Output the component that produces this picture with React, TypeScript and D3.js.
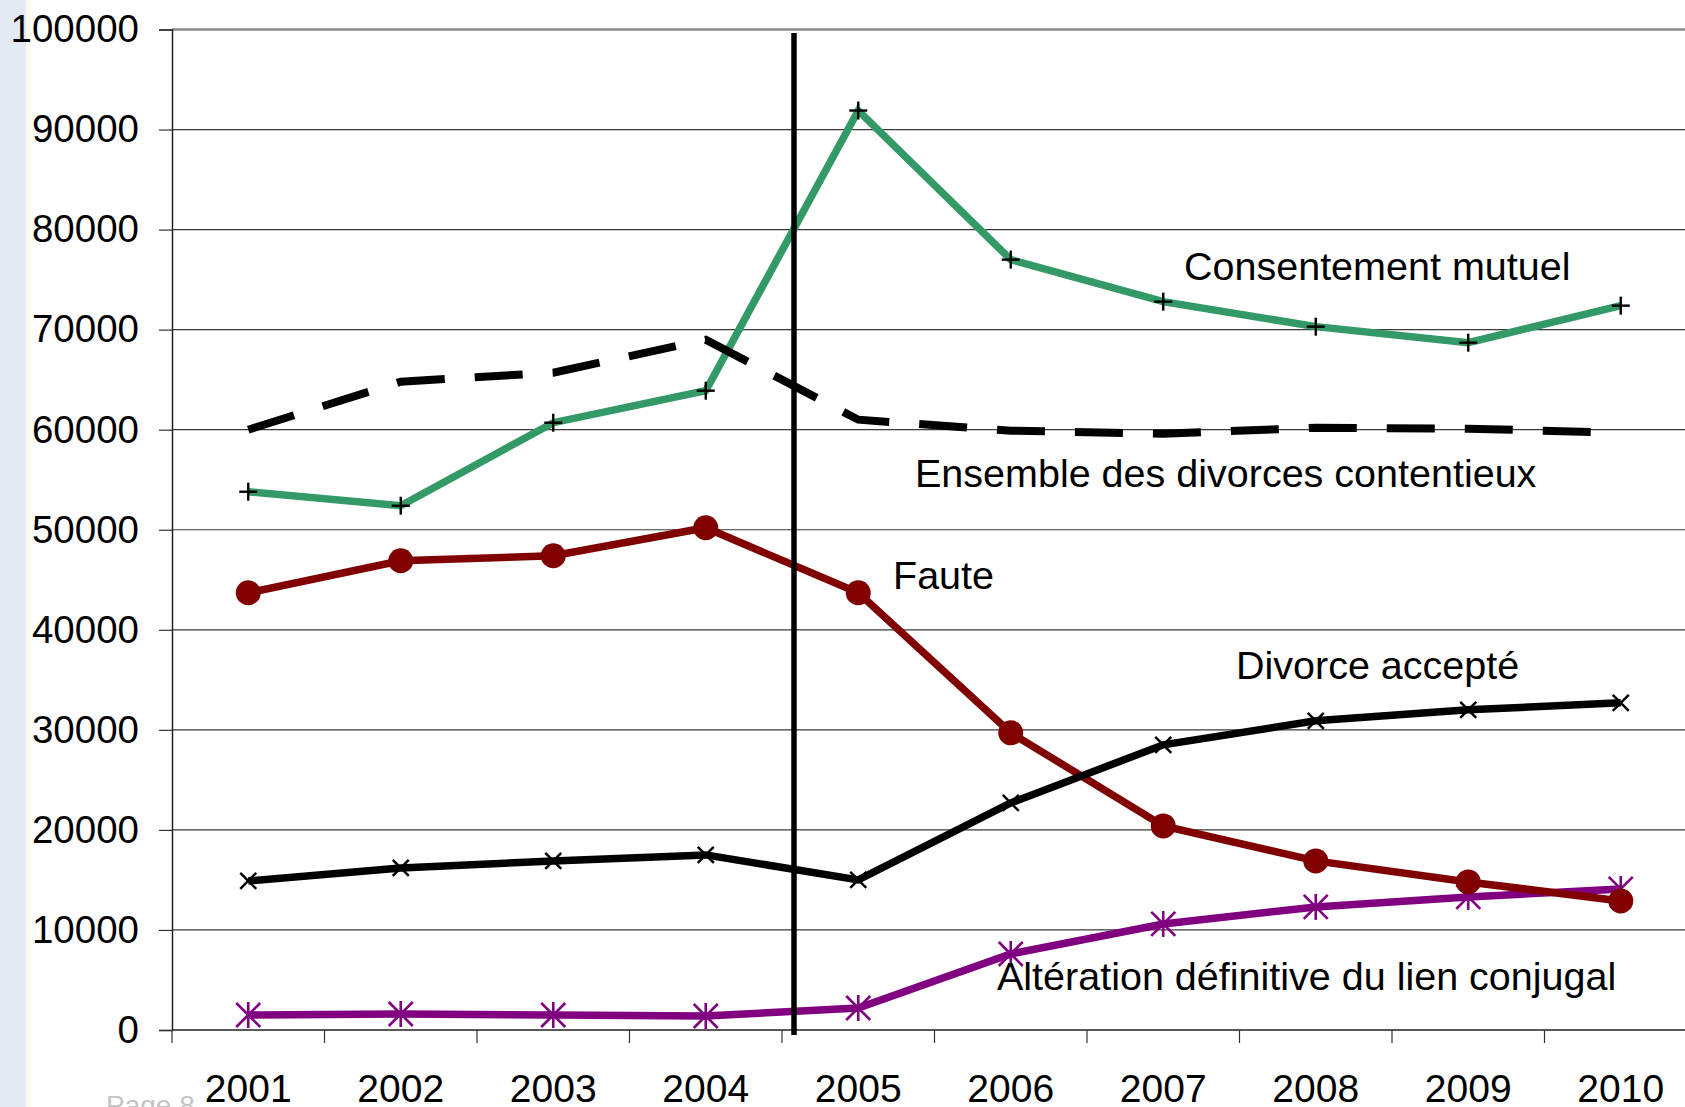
import { useEffect, useRef } from 'react';
import * as d3 from 'd3';

const years = ['2001', '2002', '2003', '2004', '2005', '2006', '2007', '2008', '2009', '2010'];
const consentement = [53800, 52400, 60700, 63900, 91900, 77000, 72800, 70300, 68700, 72400];
const contentieux = [60000, 64800, 65700, 69000, 61000, 59900, 59600, 60200, 60100, 59700];
const faute = [43700, 46900, 47400, 50200, 43700, 29700, 20400, 16900, 14800, 12900];
const accepte = [14900, 16200, 16900, 17500, 15000, 22700, 28500, 30900, 32000, 32700];
const alteration = [1500, 1600, 1500, 1400, 2200, 7600, 10600, 12300, 13300, 14100];
const yTicks = [0, 10000, 20000, 30000, 40000, 50000, 60000, 70000, 80000, 90000, 100000];

const W = 1685;
const H = 1107;
const left = 172;
const top = 29.5;
const bottom = 1030;
const step = 152.5;
const font = '"Liberation Sans", Arial, sans-serif';

const green = '#339966';
const red = '#800000';
const purple = '#800080';

export default function App() {
  const ref = useRef<SVGSVGElement>(null);

  useEffect(() => {
    const dom = ref.current;
    if (!dom) return;
    const svg = d3.select(dom);
    svg.selectAll('*').remove();

    // fond + bande gauche
    svg.append('rect').attr('width', W).attr('height', H).attr('fill', '#fff');
    svg.append('rect').attr('width', 26).attr('height', H).attr('fill', '#e4eaf3');
    svg.append('rect').attr('x', 26).attr('width', 5).attr('height', H).attr('fill', '#fcf9ee');

    const x = d3
      .scaleBand()
      .domain(years)
      .range([left, left + step * years.length]);
    const cx = (d: string) => (x(d) ?? 0) + x.bandwidth() / 2;
    const y = d3.scaleLinear().domain([0, 100000]).range([bottom, top]);

    // grille
    svg
      .append('g')
      .selectAll('line')
      .data(yTicks.filter((t) => t > 0))
      .join('line')
      .attr('x1', left)
      .attr('x2', W)
      .attr('y1', (d) => y(d))
      .attr('y2', (d) => y(d))
      .attr('stroke', (d) => (d === 100000 ? '#8a8a8a' : '#3a3a3a'))
      .attr('stroke-width', (d) => (d === 100000 ? 2.5 : 1.2));

    // axe Y
    const yAxis = svg
      .append('g')
      .attr('transform', `translate(${left},0)`)
      .call(d3.axisLeft(y).tickValues(yTicks).tickSize(13).tickPadding(20).tickFormat(d3.format('d')));
    yAxis.select('.domain').attr('stroke', '#222').attr('stroke-width', 1.5);
    yAxis.selectAll('line').attr('stroke', '#333').attr('stroke-width', 1.2);
    yAxis
      .selectAll('text')
      .attr('font-family', font)
      .attr('font-size', 38.5)
      .attr('fill', '#000');

    // axe X (graduations entre les années)
    svg
      .append('line')
      .attr('x1', left)
      .attr('x2', W)
      .attr('y1', bottom)
      .attr('y2', bottom)
      .attr('stroke', '#222')
      .attr('stroke-width', 1.5);
    svg
      .append('g')
      .selectAll('line')
      .data(years)
      .join('line')
      .attr('x1', (d) => x(d) ?? 0)
      .attr('x2', (d) => x(d) ?? 0)
      .attr('y1', bottom)
      .attr('y2', bottom + 13)
      .attr('stroke', '#333')
      .attr('stroke-width', 1.2);
    svg
      .append('g')
      .selectAll('text')
      .data(years)
      .join('text')
      .attr('x', cx)
      .attr('y', 1102)
      .attr('text-anchor', 'middle')
      .attr('font-family', font)
      .attr('font-size', 39)
      .text((d) => d);

    const line = d3
      .line<number>()
      .x((_, i) => cx(years[i]))
      .y((d) => y(d));

    const drawLine = (vals: number[], color: string, dash?: string) =>
      svg
        .append('path')
        .datum(vals)
        .attr('d', line)
        .attr('fill', 'none')
        .attr('stroke', color)
        .attr('stroke-width', dash ? 8 : 7.5)
        .attr('stroke-dasharray', dash ?? null)
        .attr('stroke-linejoin', 'miter');

    // Altération définitive - astérisques
    drawLine(alteration, purple);
    const star = svg
      .append('g')
      .selectAll('g')
      .data(alteration)
      .join('g')
      .attr('transform', (d, i) => `translate(${cx(years[i])},${y(d)})`)
      .attr('stroke', purple)
      .attr('stroke-width', 2.6);
    star.append('line').attr('x1', 0).attr('x2', 0).attr('y1', -13).attr('y2', 13);
    star.append('line').attr('x1', -12).attr('x2', 12).attr('y1', -12).attr('y2', 12);
    star.append('line').attr('x1', -12).attr('x2', 12).attr('y1', 12).attr('y2', -12);

    // Faute - ronds
    drawLine(faute, red);
    svg
      .append('g')
      .selectAll('circle')
      .data(faute)
      .join('circle')
      .attr('cx', (_, i) => cx(years[i]))
      .attr('cy', (d) => y(d))
      .attr('r', 12.5)
      .attr('fill', red);

    // Divorce accepté - croix
    drawLine(accepte, '#000');
    const cross = svg
      .append('g')
      .selectAll('g')
      .data(accepte)
      .join('g')
      .attr('transform', (d, i) => `translate(${cx(years[i])},${y(d)})`)
      .attr('stroke', '#000')
      .attr('stroke-width', 2.4);
    cross.append('line').attr('x1', -8).attr('x2', 8).attr('y1', -8).attr('y2', 8);
    cross.append('line').attr('x1', -8).attr('x2', 8).attr('y1', 8).attr('y2', -8);

    // Consentement mutuel - plus
    drawLine(consentement, green);
    const plus = svg
      .append('g')
      .selectAll('g')
      .data(consentement)
      .join('g')
      .attr('transform', (d, i) => `translate(${cx(years[i])},${y(d)})`)
      .attr('stroke', '#000')
      .attr('stroke-width', 2.4);
    plus.append('line').attr('x1', -9).attr('x2', 9).attr('y1', 0).attr('y2', 0);
    plus.append('line').attr('x1', 0).attr('x2', 0).attr('y1', -9).attr('y2', 9);

    // Ensemble des divorces contentieux - tirets
    drawLine(contentieux, '#000', '48 30');

    // réforme de 2005
    const xr = (x('2005') ?? 0) + 12;
    svg
      .append('line')
      .attr('x1', xr)
      .attr('x2', xr)
      .attr('y1', 33)
      .attr('y2', 1035)
      .attr('stroke', '#000')
      .attr('stroke-width', 5.5);

    // étiquettes
    const labels = [
      { t: 'Consentement mutuel', x: 1184, y: 280 },
      { t: 'Ensemble des divorces contentieux', x: 915, y: 487 },
      { t: 'Faute', x: 893, y: 589 },
      { t: 'Divorce accepté', x: 1236, y: 679 },
      { t: 'Altération définitive du lien conjugal', x: 997, y: 990 },
    ];
    svg
      .append('g')
      .selectAll('text')
      .data(labels)
      .join('text')
      .attr('x', (d) => d.x)
      .attr('y', (d) => d.y)
      .attr('font-family', font)
      .attr('font-size', 39.5)
      .attr('fill', '#000')
      .text((d) => d.t);

    svg
      .append('text')
      .attr('x', 106)
      .attr('y', 1115)
      .attr('font-family', font)
      .attr('font-size', 28)
      .attr('fill', '#c4c4c4')
      .text('Page 8');
  }, []);

  return (
    <svg
      ref={ref}
      width={W}
      height={H}
      style={{ position: 'absolute', left: 0, top: 0, display: 'block' }}
    />
  );
}
